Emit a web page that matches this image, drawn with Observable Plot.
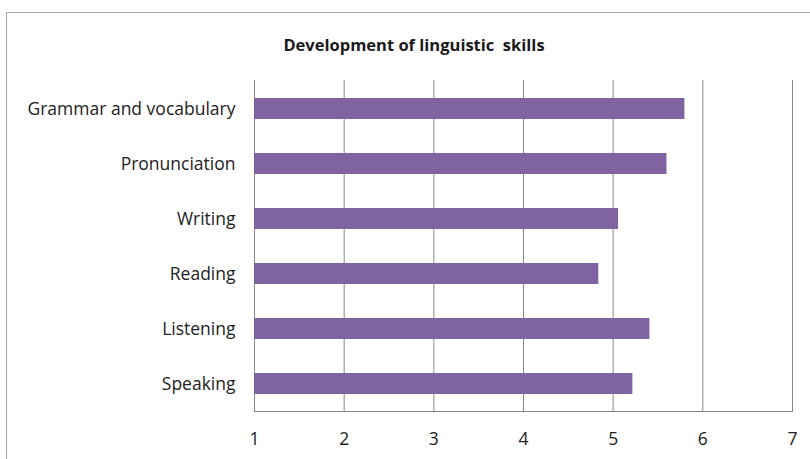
<!DOCTYPE html>
<html>
<head>
<meta charset="utf-8">
<script src="https://cdn.jsdelivr.net/npm/d3@7"></script>
<script src="https://cdn.jsdelivr.net/npm/@observablehq/plot@0.6"></script>
<style>
  html, body { margin: 0; padding: 0; background: #fff; }
  #wrap { position: relative; width: 810px; height: 459px; overflow: hidden; background: #fff; }
  #border { position: absolute; left: 6px; top: 12px; width: 900px; height: 600px; border: 1.5px solid #a6a6a6; box-sizing: border-box; }
  #title { position: absolute; left: 0; width: 828px; top: 33px; text-align: center; font-family: "Liberation Sans Narrow", "Open Sans", sans-serif; font-weight: bold; font-size: 16.5px; color: #1a1a1a; }
  #chart { position: absolute; left: 0; top: 60px; }
</style>
</head>
<body>
<div id="wrap">
  <div id="border"></div>
  <div id="title">Development of linguistic&nbsp; skills</div>
  <div id="chart"></div>
</div>
<script>
const categories = ["Grammar and vocabulary", "Pronunciation", "Writing", "Reading", "Listening", "Speaking"];
const values = [5.8, 5.6, 5.06, 4.84, 5.41, 5.22];
const xTicks = [1, 2, 3, 4, 5, 6, 7];

const data = categories.map((c, i) => ({ skill: c, value: values[i] }));

const chart = Plot.plot({
  width: 810,
  height: 399,
  marginTop: 20,
  marginBottom: 48,
  marginLeft: 254,
  marginRight: 18,
  style: { fontFamily: "'Open Sans', sans-serif", color: "#222" },
  x: { domain: [1, 7], ticks: xTicks, label: null },
  y: { domain: categories, label: null, paddingInner: 0.62, paddingOuter: 0.31 },
  marks: [
    Plot.ruleX(xTicks, { stroke: "#868686", strokeWidth: 1 }),
    Plot.barX(data, { x1: 1, x2: "value", y: "skill", fill: "#8064A2" }),
    Plot.frame({ anchor: "bottom", stroke: "#868686" }),
    Plot.axisX({ ticks: xTicks, tickFormat: d => String(d), tickSize: 0, tickPadding: 21, fontSize: 17.5, label: null }),
    Plot.axisY({ tickSize: 0, tickPadding: 19, fontSize: 17.5, label: null })
  ]
});
document.getElementById("chart").appendChild(chart);
</script>
</body>
</html>
